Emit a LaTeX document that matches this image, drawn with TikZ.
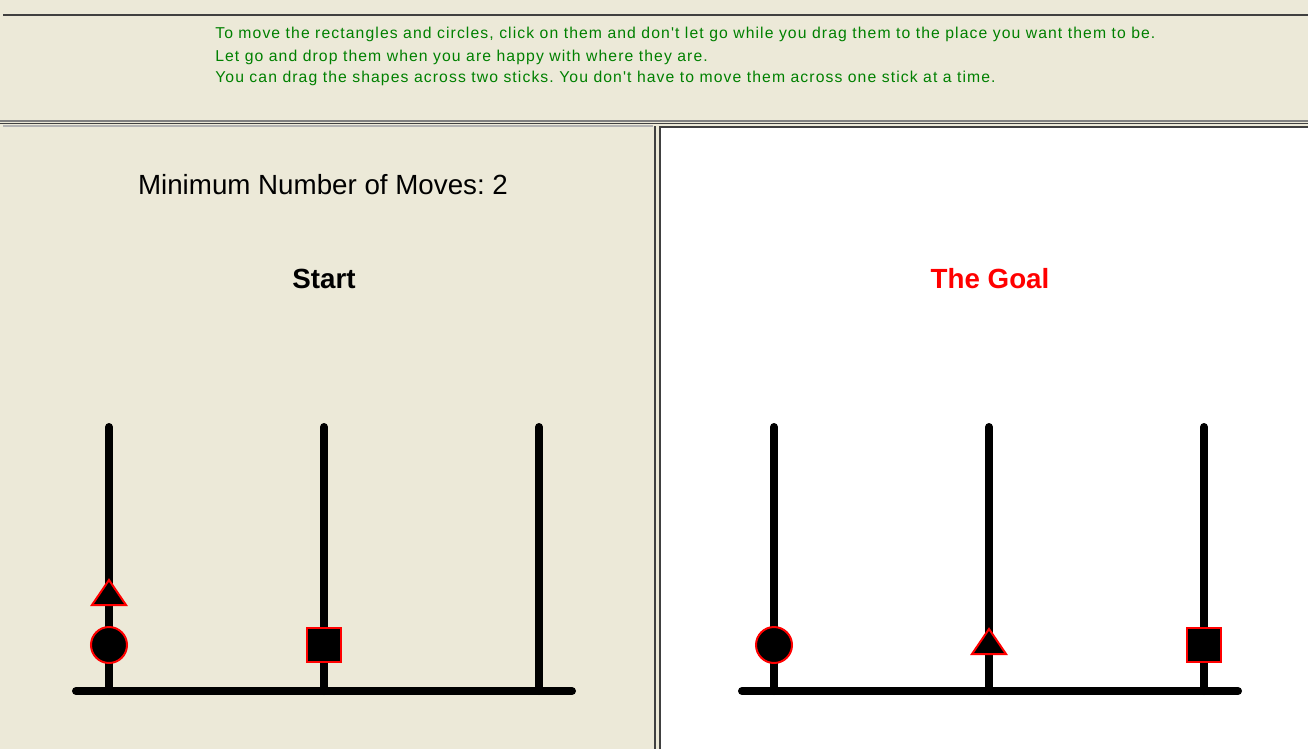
\documentclass[tikz,border=0pt]{standalone}
\usepackage{fontspec}
\setmainfont{Liberation Sans}
\newfontfamily\hintfont[LetterSpace=7]{Liberation Sans}
\usepackage{xcolor}
\frenchspacing

\definecolor{panel}{HTML}{ECE9D8}
\definecolor{hint}{HTML}{008000}
\definecolor{edge}{HTML}{404040}

\tikzset{
  stick/.style={line width=6pt, line cap=round},
  piece/.style={draw=red, fill=black, line width=1.5pt, inner sep=0pt},
  hinttext/.style={anchor=base west, text=hint, font=\hintfont\fontsize{11.8}{13}\selectfont, inner sep=0pt},
  bigtext/.style={anchor=base, font=\fontsize{20.8}{24}\selectfont, inner sep=0pt},
}

\begin{document}
\begin{tikzpicture}[x=0.75pt, y=-0.75pt]
\useasboundingbox (0,0) rectangle (1308,749);

% panels
\fill[panel] (0,0) rectangle (1308,749);
\fill[white] (660,127) rectangle (1308,749);
\draw[edge, line width=1pt] (3,15) -- (1308,15);
\draw[gray, line width=1pt] (0,121) -- (1308,121);
\draw[edge, line width=1.2pt] (0,123.5) -- (1308,123.5);
\draw[gray!60, line width=0.8pt] (3,126) -- (653,126);
\draw[edge, line width=1.5pt] (654.5,126) -- (654.5,749);
\draw[edge, line width=1.5pt] (660,749) -- (660,126.5) -- (1308,126.5);

% instructions
\node[hinttext] (line1) at (215,39) {To move the rectangles and circles, click on them and don't let go while you drag them to the place you want them to be.};
\node[hinttext] (line2) at (215,61) {Let go and drop them when you are happy with where they are.};
\node[hinttext] (line3) at (215,83) {You can drag the shapes across two sticks. You don't have to move them across one stick at a time.};

% headings
\node[bigtext] (moves) at (323,194) {Minimum Number of Moves: 2};
\node[bigtext, font=\fontsize{20.8}{24}\selectfont\bfseries] (start) at (324,288) {Start};
\node[bigtext, font=\fontsize{20.8}{24}\selectfont\bfseries, text=red] (goal) at (990,288) {The Goal};

% sticks
\foreach \x in {109,324,539,774,989,1204}
  \draw[stick] (\x,427) -- (\x,691);
\draw[stick] (76,691) -- (572,691);
\draw[stick] (742,691) -- (1238,691);

% start position
\node[piece, circle, minimum size=27pt] (startcircle) at (109,645) {};
\draw[piece] (109,580) -- (126,605) -- (92,605) -- cycle;
\node[piece, rectangle, minimum size=25.5pt] (startsquare) at (324,645) {};

% goal position
\node[piece, circle, minimum size=27pt] (goalcircle) at (774,645) {};
\draw[piece] (989,629) -- (1006,654) -- (972,654) -- cycle;
\node[piece, rectangle, minimum size=25.5pt] (goalsquare) at (1204,645) {};
\end{tikzpicture}
\end{document}
